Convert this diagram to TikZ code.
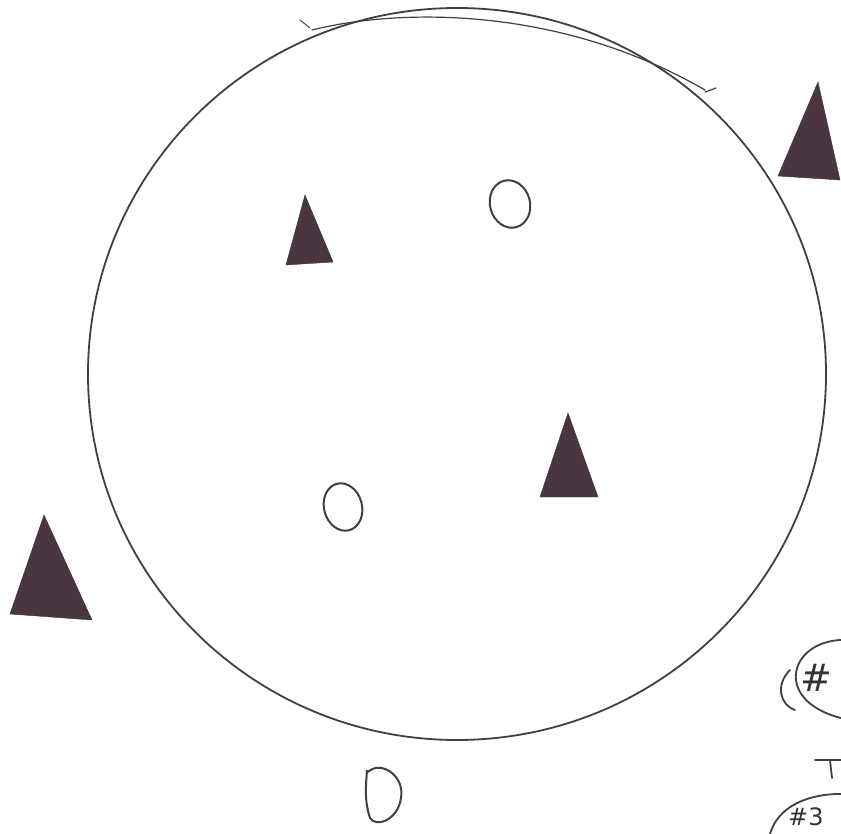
\documentclass[tikz,border=0pt]{standalone}
\usepackage{fontspec}
\setmainfont{DejaVu Sans}
\begin{document}
\begin{tikzpicture}[x=1pt,y=-1pt,
  pen/.style={draw=black!75, line width=1.8pt, line cap=round},
  ball/.style={draw=black!75, line width=2pt},
  lbl/.style={font=\fontsize{38}{38}\selectfont, text=black!80, inner sep=0pt}]
\definecolor{cone}{HTML}{4A3540}
\useasboundingbox (0,0) rectangle (841,834);
\fill[white] (0,0) rectangle (841,834);
% big circle (field)
\draw[pen] (457,374) ellipse [x radius=369, y radius=366];
\draw[pen, line width=1.2pt] (312,30) .. controls (400,8) and (560,6) .. (705,90);
\draw[pen, line width=1.2pt] (705,92) -- (716,88);
\draw[pen, line width=1pt] (300,20) -- (310,28);
% gap on lower-left
\draw[white, line width=5pt] (146,579) -- (156,593);
% cones
\fill[cone, draw=black!80] (818,82) -- (778,176) -- (840,180) -- cycle;
\fill[cone, draw=black!80] (305,195) -- (286,265) -- (333,262) -- cycle;
\fill[cone, draw=black!80] (568,413) -- (540,497) -- (598,497) -- cycle;
\fill[cone, draw=black!80] (44,515) -- (10,614) -- (92,620) -- cycle;
% balls
\draw[ball, rotate around={15:(510,204)}] (510,204) ellipse [x radius=20, y radius=24];
\draw[ball, rotate around={15:(343,507)}] (343,507) ellipse [x radius=19, y radius=24];
\draw[ball] (368,772) .. controls (380,760) and (405,775) .. (401,798) .. controls (398,820) and (376,828) .. (370,818) .. controls (364,800) and (366,785) .. (367,770);
% labels bottom right
\draw[pen] (850,640) .. controls (790,636) and (770,700) .. (841,718);
\draw[pen] (790,670) .. controls (775,685) and (780,705) .. (795,710);
\node[lbl, anchor=west] (l1) at (800,678) {\#};
\draw[pen] (815,760) -- (841,760);
\draw[pen] (830,760) -- (832,778);
\draw[pen] (770,834) .. controls (780,800) and (820,793) .. (845,794);
\node[lbl, font=\fontsize{24}{24}\selectfont, anchor=south west] (l3) at (788,826) {\#3};
\end{tikzpicture}
\end{document}
